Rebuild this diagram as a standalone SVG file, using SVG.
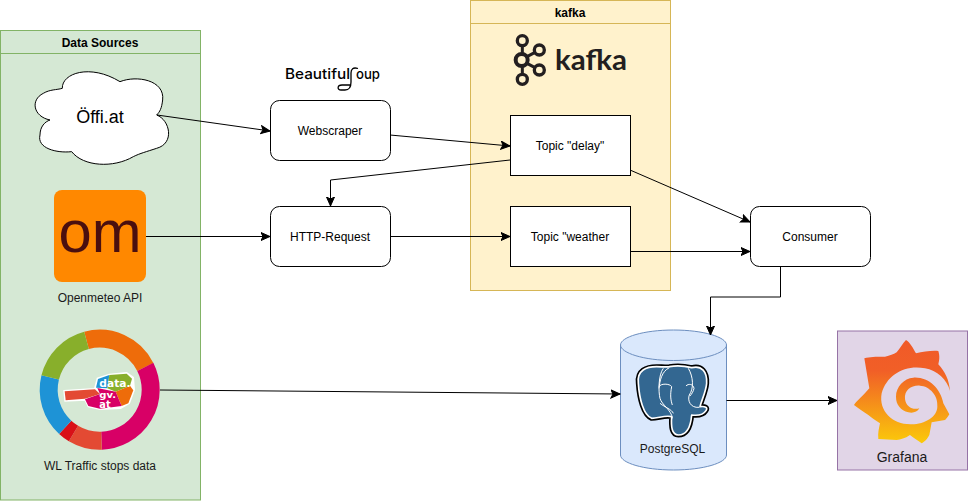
<svg xmlns="http://www.w3.org/2000/svg" width="969" height="501" viewBox="0 0 969 501">
<style>
text{font-family:"Liberation Sans",Arial,sans-serif;font-size:12px;fill:#000;text-anchor:middle}
.hd{font-weight:bold}
.box{fill:#fff;stroke:#000;stroke-width:1}
.c{fill:none;stroke:#000;stroke-width:1;marker-end:url(#arrow)}
.seg{fill:none;stroke-width:18}
.k{fill:none;stroke:#231f20;stroke-width:7}
.dg{font-family:"DejaVu Sans",sans-serif;font-weight:bold;fill:#fff;text-anchor:start}
</style>
<defs>
<marker id="arrow" markerUnits="userSpaceOnUse" markerWidth="11" markerHeight="10" refX="9.5" refY="4.5" orient="auto">
<path d="M0.5 0.5L9.5 4.5L0.5 8.5L2.5 4.5Z" fill="#000" stroke="#000" stroke-width="1"/>
</marker>
<linearGradient id="gf" x1="0" y1="0" x2="0" y2="1">
<stop offset="0" stop-color="#f05a28"/><stop offset=".3" stop-color="#f15f27"/><stop offset="1" stop-color="#fbca0a"/>
</linearGradient>
</defs>
<rect width="969" height="501" fill="#fff"/>

<g id="data-sources">
<rect x="0.5" y="30.5" width="200" height="469.5" fill="#d5e8d4" stroke="#82b366"/>
<path d="M0.5 53.5H200.5" fill="none" stroke="#82b366"/>
<text class="hd" x="100" y="47">Data Sources</text>
</g>

<g id="kafka">
<rect x="470.5" y="0.5" width="200" height="290" fill="#fff2cc" stroke="#d6b656"/>
<path d="M470.5 23.5H670.5" fill="none" stroke="#d6b656"/>
<text class="hd" x="570" y="17">kafka</text>
<g transform="translate(470 0) scale(.3333)">
<circle class="k" cx="157" cy="122" r="15" style="stroke-width:10"/>
<circle class="k" cx="208" cy="150" r="15" style="stroke-width:10"/>
<circle class="k" cx="155" cy="180" r="18" style="stroke-width:12"/>
<circle class="k" cx="208" cy="210" r="15" style="stroke-width:10"/>
<circle class="k" cx="157" cy="238" r="15" style="stroke-width:10"/>
<path class="k" style="stroke-width:9" d="M157 137V162M157 198V223M171 170L195 157M171 190L195 203"/>
</g>
<text x="591" y="69.500" textLength="72" lengthAdjust="spacingAndGlyphs" style="font-family:Lato,sans-serif;font-size:28px;font-weight:bold;fill:#231f20">kafka</text>
</g>

<g id="oeffi">
<g transform="translate(0 20) scale(.3333)">
<path d="M150 300C100 290 90 240 130 220C150 208 170 210 187 205C185 160 270 130 360 185C410 165 495 180 488 240C485 265 480 275 470 285C510 300 525 370 470 385C440 395 420 400 400 410C340 445 250 440 215 395C170 400 110 385 120 345C120 320 135 305 150 300Z" fill="#fff" stroke="#000" stroke-width="3"/>
</g>
<text x="100" y="123" style="font-size:18px">Öffi.at</text>
</g>

<g id="openmeteo">
<rect x="54" y="190" width="92" height="92" rx="8" fill="#ff8800"/>
<text x="100" y="251.500" textLength="83" lengthAdjust="spacingAndGlyphs" style="font-size:60px;fill:#4a0f0f">om</text>
<text x="100" y="302" style="fill:#1a1a1a">Openmeteo API</text>
</g>

<g id="wl-traffic">
<g transform="translate(99.700 389.700)">
<path class="seg" stroke="#ee6c0a" d="M-13.200 -49.300A51 51 0 0 1 45.600 -22.800"/>
<path class="seg" stroke="#d80066" d="M45.600 -22.800A51 51 0 0 1 1.800 51"/>
<path class="seg" stroke="#e34a33" d="M1.800 51A51 51 0 0 1 -26.200 43.800"/>
<path class="seg" stroke="#d91018" d="M-26.200 43.800A51 51 0 0 1 -34.500 37.600"/>
<path class="seg" stroke="#1e93d6" d="M-34.500 37.600A51 51 0 0 1 -49.500 -12.300"/>
<path class="seg" stroke="#88af2b" d="M-49.500 -12.300A51 51 0 0 1 -13.200 -49.300"/>
</g>
<g transform="translate(20 320) scale(.3333)">
<path d="M132 212L224 206L232 175L268 163L320 158L340 172L343 210L328 250L302 265L240 268L205 260L195 240L135 243Z" fill="#fff" stroke="#fff" stroke-width="4"/>
<path d="M228 203L234 177L268 165L262 205Z" fill="#1e93d6"/>
<path d="M268 165L320 161L336 176L330 197L287 215L262 205Z" fill="#88af2b"/>
<path d="M330 197L340 211L325 250L305 258L287 215Z" fill="#ee6c0a"/>
<path d="M232 204L287 215L305 258L240 266L205 258L195 238L240 222Z" fill="#d80066"/>
<path d="M134 214L225 208L240 222L195 236L137 241Z" fill="#e34a33"/>
<text class="dg" x="238" y="202" textLength="94" lengthAdjust="spacingAndGlyphs" style="font-size:29px">data.</text>
<text class="dg" x="238" y="233" textLength="50" lengthAdjust="spacingAndGlyphs" style="font-size:25px">gv.</text>
<text class="dg" x="238" y="265" textLength="34" lengthAdjust="spacingAndGlyphs" style="font-size:29px">at</text>
</g>
<text x="100" y="470" style="fill:#1a1a1a">WL Traffic stops data</text>
</g>

<g id="beautifulsoup-logo">
<text x="317.500" y="78.500" textLength="65" lengthAdjust="spacingAndGlyphs" style="font-family:Inter,sans-serif;font-size:14.500px;font-weight:500">Beautiful</text>
<text x="368" y="78.500" textLength="24" lengthAdjust="spacingAndGlyphs" style="font-family:Inter,sans-serif;font-size:14.500px;font-weight:500">oup</text>
<path d="M358 68.500C353 67 351 69 351 73V82C351 88 349 90 345 90H341C337 90 337 85 342 85H351" fill="none" stroke="#000" stroke-width="1.300"/>
</g>

<g id="webscraper"><rect class="box" x="270.500" y="100.500" width="120" height="60" rx="9"/><text x="330" y="135">Webscraper</text></g>
<g id="http-request"><rect class="box" x="270.500" y="206.500" width="120" height="60" rx="9"/><text x="330" y="241">HTTP-Request</text></g>
<g id="topic-delay"><rect class="box" x="510.500" y="115.500" width="120" height="60"/><text x="570" y="150">Topic "delay"</text></g>
<g id="topic-weather"><rect class="box" x="510.500" y="206.500" width="120" height="60"/><text x="570" y="241">Topic "weather</text></g>
<g id="consumer"><rect class="box" x="750.500" y="206.500" width="120" height="60" rx="9"/><text x="810" y="241">Consumer</text></g>

<g id="postgresql">
<path d="M620.500 345C620.500 337 644 330 673.500 330S726.500 337 726.500 345V455C726.500 463 703 470 673.500 470S620.500 463 620.500 455Z" fill="#dae8fc" stroke="#6c8ebf"/>
<path d="M620.500 345C620.500 353 644 360.500 673.500 360.500S726.500 353 726.500 345" fill="none" stroke="#6c8ebf"/>
<g transform="translate(610 320) scale(.3333)">
<path d="M85 190C80 150 110 140 140 140C155 140 165 142 178 140C205 135 225 138 245 143C275 135 292 155 290 190C288 215 275 240 270 260C285 258 295 262 288 272C280 285 260 287 245 285C243 310 235 345 205 345C185 345 183 320 185 290C165 285 145 295 125 295C100 285 88 235 85 190Z" fill="#000" stroke="#000" stroke-width="15" stroke-linejoin="round"/>
<path d="M85 190C80 150 110 140 140 140C155 140 165 142 178 140C205 135 225 138 245 143C275 135 292 155 290 190C288 215 275 240 270 260C285 258 295 262 288 272C280 285 260 287 245 285C243 310 235 345 205 345C185 345 183 320 185 290C165 285 145 295 125 295C100 285 88 235 85 190Z" fill="#336791" stroke="#fff" stroke-width="5" stroke-linejoin="round"/>
<path d="M160 145C145 165 145 215 150 235C155 255 185 270 187 295M235 145C250 170 252 205 238 225C232 240 240 265 268 262M150 250C165 262 185 268 190 280M148 200C150 190 180 190 185 200C180 225 182 240 187 255M228 198C235 190 250 192 252 205C250 215 245 222 240 228M178 143C155 155 150 180 147 205" fill="none" stroke="#fff" stroke-width="3"/>
</g>
<text x="672.500" y="453" style="fill:#1a1a1a">PostgreSQL</text>
</g>

<g id="grafana">
<rect x="837.500" y="331" width="130" height="139" fill="#e1d5e7" stroke="#9673a6"/>
<g transform="translate(830 325) scale(.3333)">
<path fill="url(#gf)" d="M360 198C352 165 320 135 285 130C225 118 170 150 155 205C145 260 190 300 245 298C285 297 322 275 322 245C326 212 298 183 270 182C245 180 222 195 225 222C228 245 248 256 268 250C262 262 248 265 235 262C212 255 198 240 198 215C198 185 222 160 250 158C295 155 332 190 340 235L358 268C352 278 348 283 345 285L305 292C302 310 300 320 298 330C290 345 283 350 275 355C262 345 250 338 240 330C225 340 212 344 200 345L145 342C143 325 147 310 150 295C135 285 125 278 115 270C100 260 85 250 72 240C82 225 100 212 118 190C113 160 108 130 103 100C120 95 135 95 165 95C180 92 190 88 200 82C210 70 218 55 228 45C240 52 250 70 258 85C280 80 305 76 325 78C330 95 328 105 325 118C345 140 358 165 360 198Z"/>
</g>
<text x="902" y="462" style="font-size:14px;fill:#1a1a1a">Grafana</text>
</g>

<g id="connectors">
<path class="c" d="M157 115L270 131"/>
<path class="c" d="M390 135L510 146"/>
<path class="c" d="M510 160L330.500 180V206"/>
<path class="c" d="M146 236.500H270"/>
<path class="c" d="M390 236.500H510"/>
<path class="c" d="M630 170L750 222"/>
<path class="c" d="M630 251.500H750"/>
<path class="c" d="M780.500 266.500V297H710.500V335"/>
<path class="c" d="M160 390L620 394"/>
<path class="c" d="M726.500 400.500H837"/>
</g>
</svg>
